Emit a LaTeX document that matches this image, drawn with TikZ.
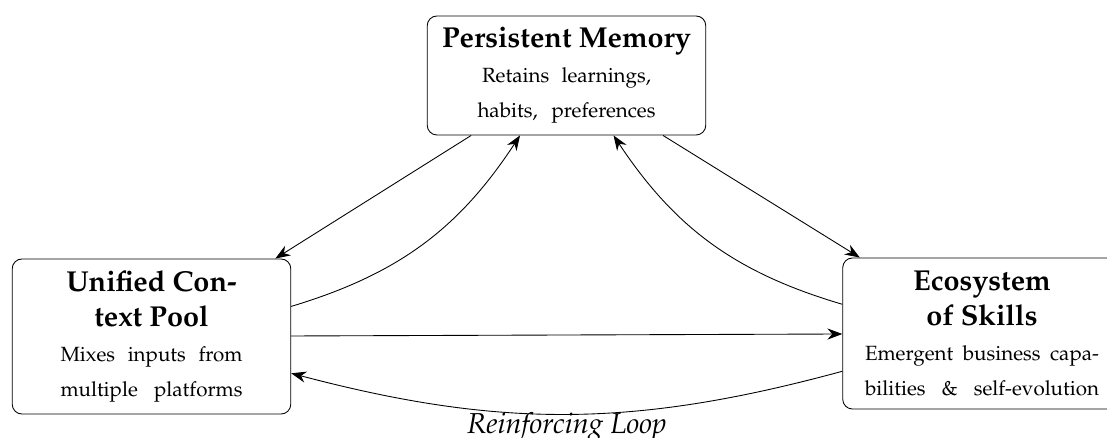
\documentclass[tikz,border=0pt]{standalone}
\usepackage[T1]{fontenc}
\usepackage{mathpazo}
\usepackage{tikz}
\usetikzlibrary{arrows.meta}
\newcommand{\bodyfont}{\fontsize{11.7}{20}\selectfont}
\newcommand{\headfont}{\fontsize{16.4}{20}\selectfont\bfseries}
\newcommand{\fitline}[2]{\makebox[#1][s]{#2}}
\tikzset{
  box/.style={draw, rounded corners=5.5pt, line width=0.5pt, align=center, inner sep=2pt,
    minimum width=5.57cm, font=\bodyfont},
  flow/.style={-{Stealth[length=8.5pt]}, line width=0.5pt},
  loopnote/.style={below=-1pt, font=\fontsize{16.4}{20}\selectfont\itshape, inner sep=0pt}
}
\begin{document}
\begin{tikzpicture}
  \useasboundingbox (0,0) rectangle (22.14,8.76);

  \node[box, minimum height=2.38cm] (mem) at (11.33,7.25)
    {{\headfont Persistent Memory}\\
     \fitline{3.38cm}{Retains learnings,}\\
     \fitline{3.56cm}{habits, preferences}};
  \node[box, minimum height=3.10cm] (ctx) at (3.03,2.03)
    {{\headfont Unified Con-}\\ {\headfont text Pool}\\
     \fitline{3.64cm}{Mixes inputs from}\\
     \fitline{3.64cm}{multiple platforms}};
  % right box runs past the page edge
  \node[box, minimum height=3.02cm] (skills) at (19.64,2.09)
    {{\headfont Ecosystem}\\ {\headfont of Skills}\\
     \fitline{4.68cm}{Emergent business capa-}\\
     \fitline{4.68cm}{bilities \& self-evolution}};

  \draw[flow] (mem) -- (ctx);
  \draw[flow] (mem) -- (skills);
  \draw[flow] (ctx) to[bend right=20] (mem);
  \draw[flow] (skills) to[bend left=20] (mem);
  \draw[flow] (ctx) -- (skills);
  \draw[flow] (skills) to[bend left=15] node[loopnote] {Reinforcing Loop} (ctx);
\end{tikzpicture}
\end{document}
